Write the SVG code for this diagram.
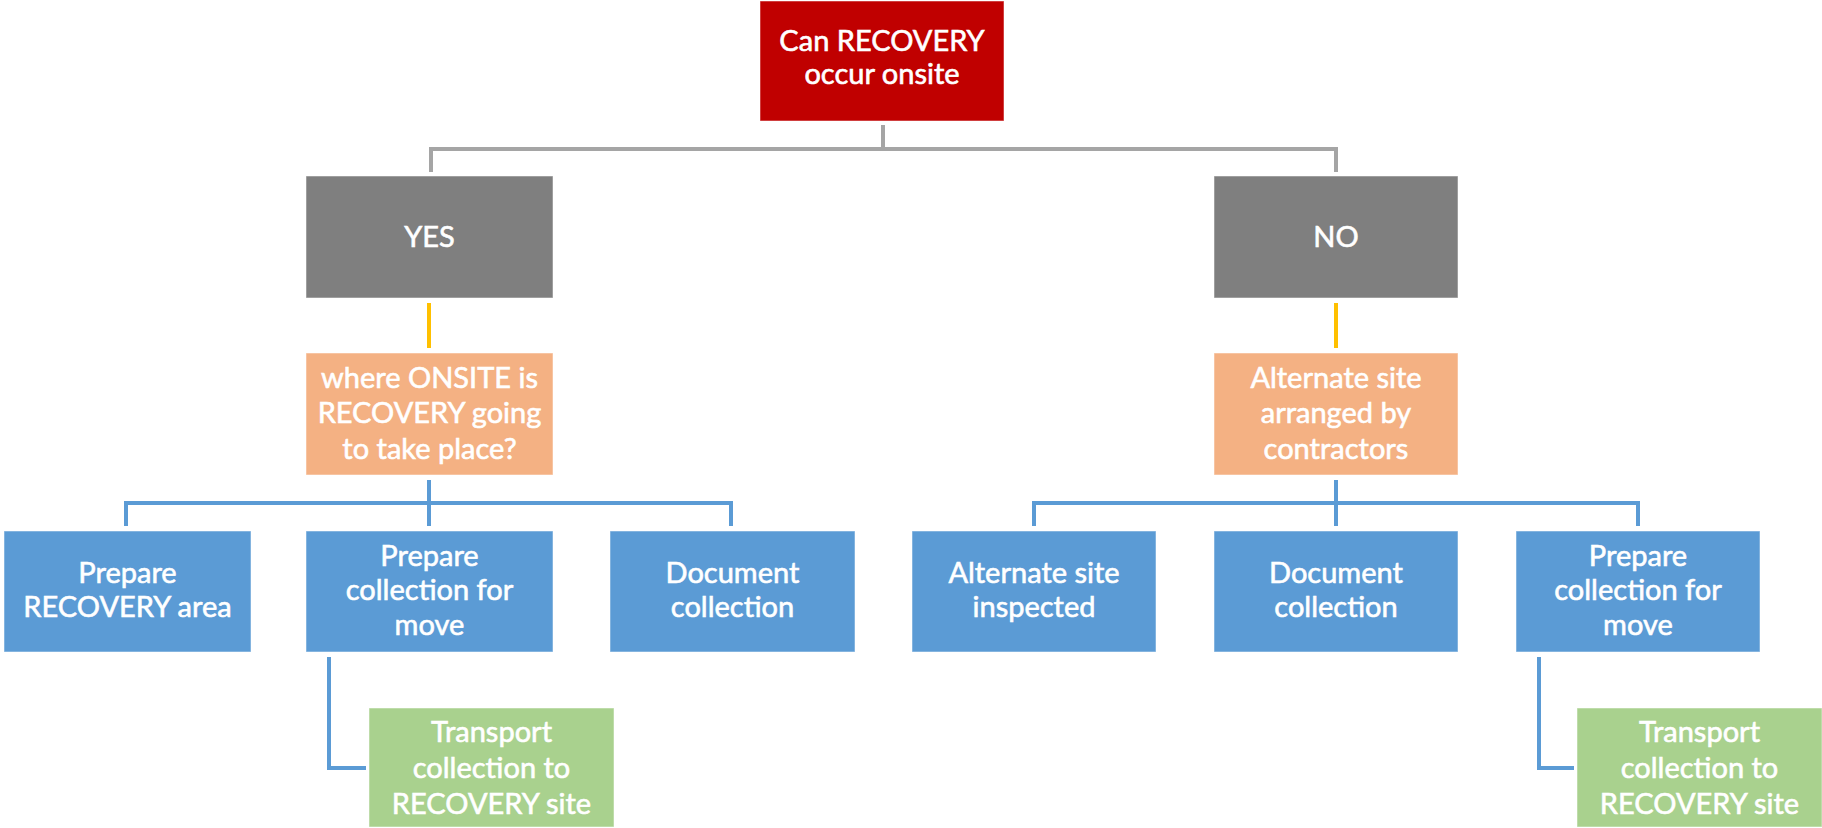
<svg xmlns="http://www.w3.org/2000/svg" width="1822" height="828" viewBox="0 0 1822 828">
<style>
text{font-family:Lato,"Open Sans","Liberation Sans",sans-serif;font-size:29px;fill:#fff;stroke:#fff;stroke-width:0.6;text-anchor:middle}
.red{fill:#C00000}
.gray{fill:#7F7F7F}
.orange{fill:#F4B183}
.blue{fill:#5B9BD5}
.green{fill:#A9D18E}
rect{stroke:#fff;stroke-opacity:0.5;stroke-width:1}
.c{fill:none;stroke-width:4}
</style>
<rect x="0" y="0" width="1822" height="828" fill="#fff" stroke="none"/>
<g id="connectors">
<path class="c" stroke="#A5A5A5" d="M883,125 V149 M431,172 V149 H1336 V172"/>
<path class="c" stroke="#FFC000" d="M429,303 V348 M1336,303 V348"/>
<path class="c" stroke="#5B9BD5" d="M429,480 V526 M126,526 V503 H731 V526"/>
<path class="c" stroke="#5B9BD5" d="M1336,480 V526 M1034,526 V503 H1638 V526"/>
<path class="c" stroke="#5B9BD5" d="M329,657 V768 H366"/>
<path class="c" stroke="#5B9BD5" d="M1539,657 V768 H1574"/>
</g>
<g id="root">
<rect class="red" x="760" y="1" width="244" height="120"/>
<text x="882" y="51">Can RECOVERY</text>
<text x="882" y="84">occur onsite</text>
</g>
<g id="yes">
<rect class="gray" x="306" y="176" width="247" height="122"/>
<text x="429.5" y="247">YES</text>
</g>
<g id="no">
<rect class="gray" x="1214" y="176" width="244" height="122"/>
<text x="1336" y="247">NO</text>
</g>
<g id="where-onsite">
<rect class="orange" x="306" y="353" width="247" height="122"/>
<text x="429.5" y="388">where ONSITE is</text>
<text x="429.5" y="423">RECOVERY going</text>
<text x="429.5" y="459">to take place?</text>
</g>
<g id="alternate-site">
<rect class="orange" x="1214" y="353" width="244" height="122"/>
<text x="1336" y="388">Alternate site</text>
<text x="1336" y="423">arranged by</text>
<text x="1336" y="459">contractors</text>
</g>
<g id="prepare-area">
<rect class="blue" x="4" y="531" width="247" height="121"/>
<text x="127.5" y="583">Prepare</text>
<text x="127.5" y="617">RECOVERY area</text>
</g>
<g id="prepare-move-left">
<rect class="blue" x="306" y="531" width="247" height="121"/>
<text x="429.5" y="566">Prepare</text>
<text x="429.5" y="600">collection for</text>
<text x="429.5" y="635">move</text>
</g>
<g id="document-left">
<rect class="blue" x="610" y="531" width="245" height="121"/>
<text x="732.5" y="583">Document</text>
<text x="732.5" y="617">collection</text>
</g>
<g id="alternate-inspected">
<rect class="blue" x="912" y="531" width="244" height="121"/>
<text x="1034" y="583">Alternate site</text>
<text x="1034" y="617">inspected</text>
</g>
<g id="document-right">
<rect class="blue" x="1214" y="531" width="244" height="121"/>
<text x="1336" y="583">Document</text>
<text x="1336" y="617">collection</text>
</g>
<g id="prepare-move-right">
<rect class="blue" x="1516" y="531" width="244" height="121"/>
<text x="1638" y="566">Prepare</text>
<text x="1638" y="600">collection for</text>
<text x="1638" y="635">move</text>
</g>
<g id="transport-left">
<rect class="green" x="369" y="708" width="245" height="119"/>
<text x="491.5" y="742">Transport</text>
<text x="491.5" y="778">collection to</text>
<text x="491.5" y="814">RECOVERY site</text>
</g>
<g id="transport-right">
<rect class="green" x="1577" y="708" width="245" height="119"/>
<text x="1699.5" y="742">Transport</text>
<text x="1699.5" y="778">collection to</text>
<text x="1699.5" y="814">RECOVERY site</text>
</g>
</svg>
